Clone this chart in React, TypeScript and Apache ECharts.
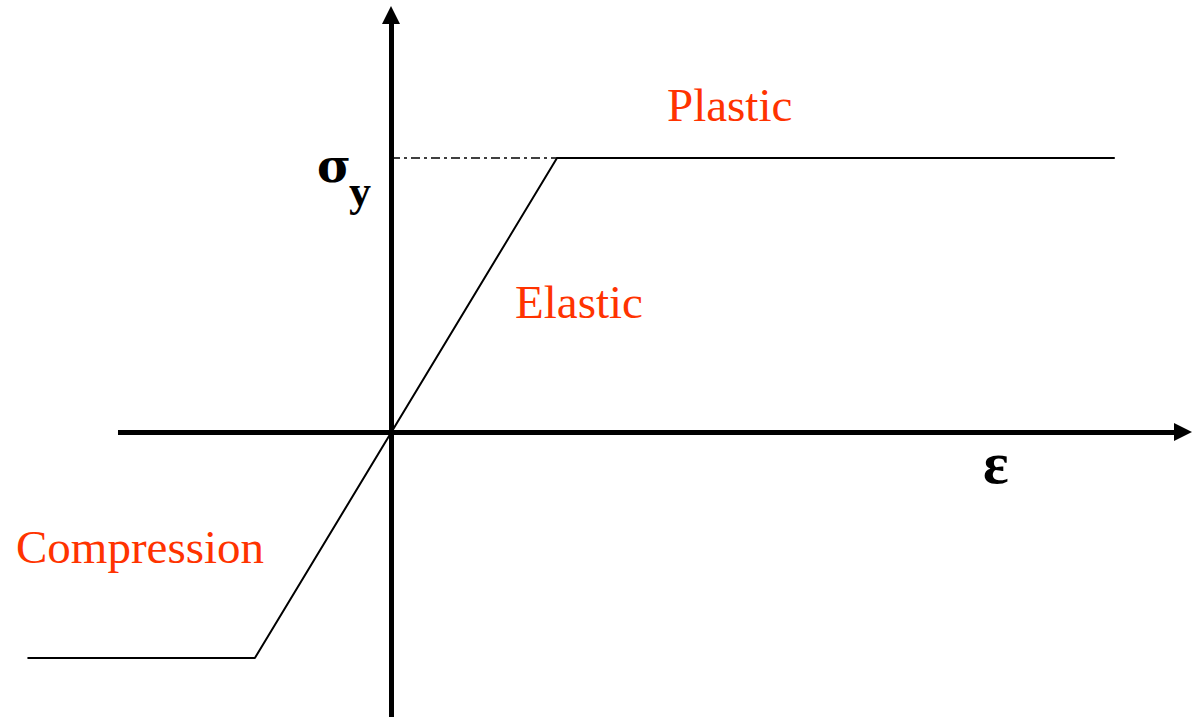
import React, { useEffect, useRef } from "react";
import * as echarts from "echarts";

// Stress-strain curve (abstract units: yield strain = 1, yield stress = 1)
const strain = [-2.19, -0.82, 1.0, 4.36];
const stress = [-0.825, -0.825, 1.0, 1.0];
const yieldGuideStrain = [0, 1.0];
const yieldGuideStress = [1.0, 1.0];
const strainAxisExtent = [-1.6446, 4.771];
const regionLabels = ["Plastic", "Elastic", "Compression"];
const axisLabels = ["σ", "y", "ε"];

const RED = "#ff3300";
const SERIF = "'Liberation Serif', 'Times New Roman', serif";

export default function App() {
  const ref = useRef<HTMLDivElement>(null);
  useEffect(() => {
    if (!ref.current) return;
    const chart = echarts.init(ref.current, null, { renderer: "svg" });
    chart.setOption({
      animation: false,
      backgroundColor: "#ffffff",
      grid: { left: 0, right: 11, top: 15, bottom: 0, containLabel: false },
      xAxis: {
        type: "value",
        min: -2.3554,
        max: 4.771,
        axisLine: { show: false, onZero: true },
        axisTick: { show: false },
        axisLabel: { show: false },
        splitLine: { show: false },
      },
      yAxis: {
        type: "value",
        min: -1.04,
        max: 1.522,
        axisLine: {
          show: true,
          onZero: true,
          symbol: ["none", "triangle"],
          symbolSize: [18, 18],
          lineStyle: { color: "#000", width: 5 },
        },
        axisTick: { show: false },
        axisLabel: { show: false },
        splitLine: { show: false },
      },
      series: [
        {
          type: "line",
          data: strain.map((x, i) => [x, stress[i]]),
          clip: false,
          symbol: "none",
          lineStyle: { color: "#000", width: 2 },
          z: 5,
          markLine: {
            silent: true,
            symbol: ["none", "triangle"],
            symbolSize: [18, 18],
            label: { show: false },
            lineStyle: { color: "#000", width: 5, type: "solid" },
            emphasis: { disabled: true },
            data: [
              [
                { coord: [strainAxisExtent[0], 0] },
                { coord: [strainAxisExtent[1], 0] },
              ],
            ],
          },
        },
        {
          type: "line",
          data: yieldGuideStrain.map((x, i) => [x, yieldGuideStress[i]]),
          clip: false,
          symbol: "none",
          lineStyle: { color: "#000", width: 1.5, type: [9, 4, 3, 4] },
          z: 4,
        },
      ],
      graphic: [
        {
          type: "text",
          left: 667,
          top: 81,
          style: { text: regionLabels[0], fill: RED, font: `47px ${SERIF}` },
        },
        {
          type: "text",
          left: 515,
          top: 278,
          style: { text: regionLabels[1], fill: RED, font: `47px ${SERIF}` },
        },
        {
          type: "text",
          left: 16,
          top: 523,
          style: { text: regionLabels[2], fill: RED, font: `47px ${SERIF}` },
        },
        {
          type: "text",
          left: 317,
          top: 143,
          style: { text: axisLabels[0], fill: "#000", font: `bold 46px 'DejaVu Serif', serif` },
        },
        {
          type: "text",
          left: 349,
          top: 169,
          style: { text: axisLabels[1], fill: "#000", font: `bold 44px ${SERIF}` },
        },
        {
          type: "text",
          left: 983,
          top: 433,
          style: { text: axisLabels[2], fill: "#000", font: `bold 60px ${SERIF}` },
        },
      ],
    });
    return () => chart.dispose();
  }, []);
  return (
    <div
      ref={ref}
      style={{ position: "fixed", left: 0, top: 0, width: 1194, height: 717 }}
    />
  );
}
